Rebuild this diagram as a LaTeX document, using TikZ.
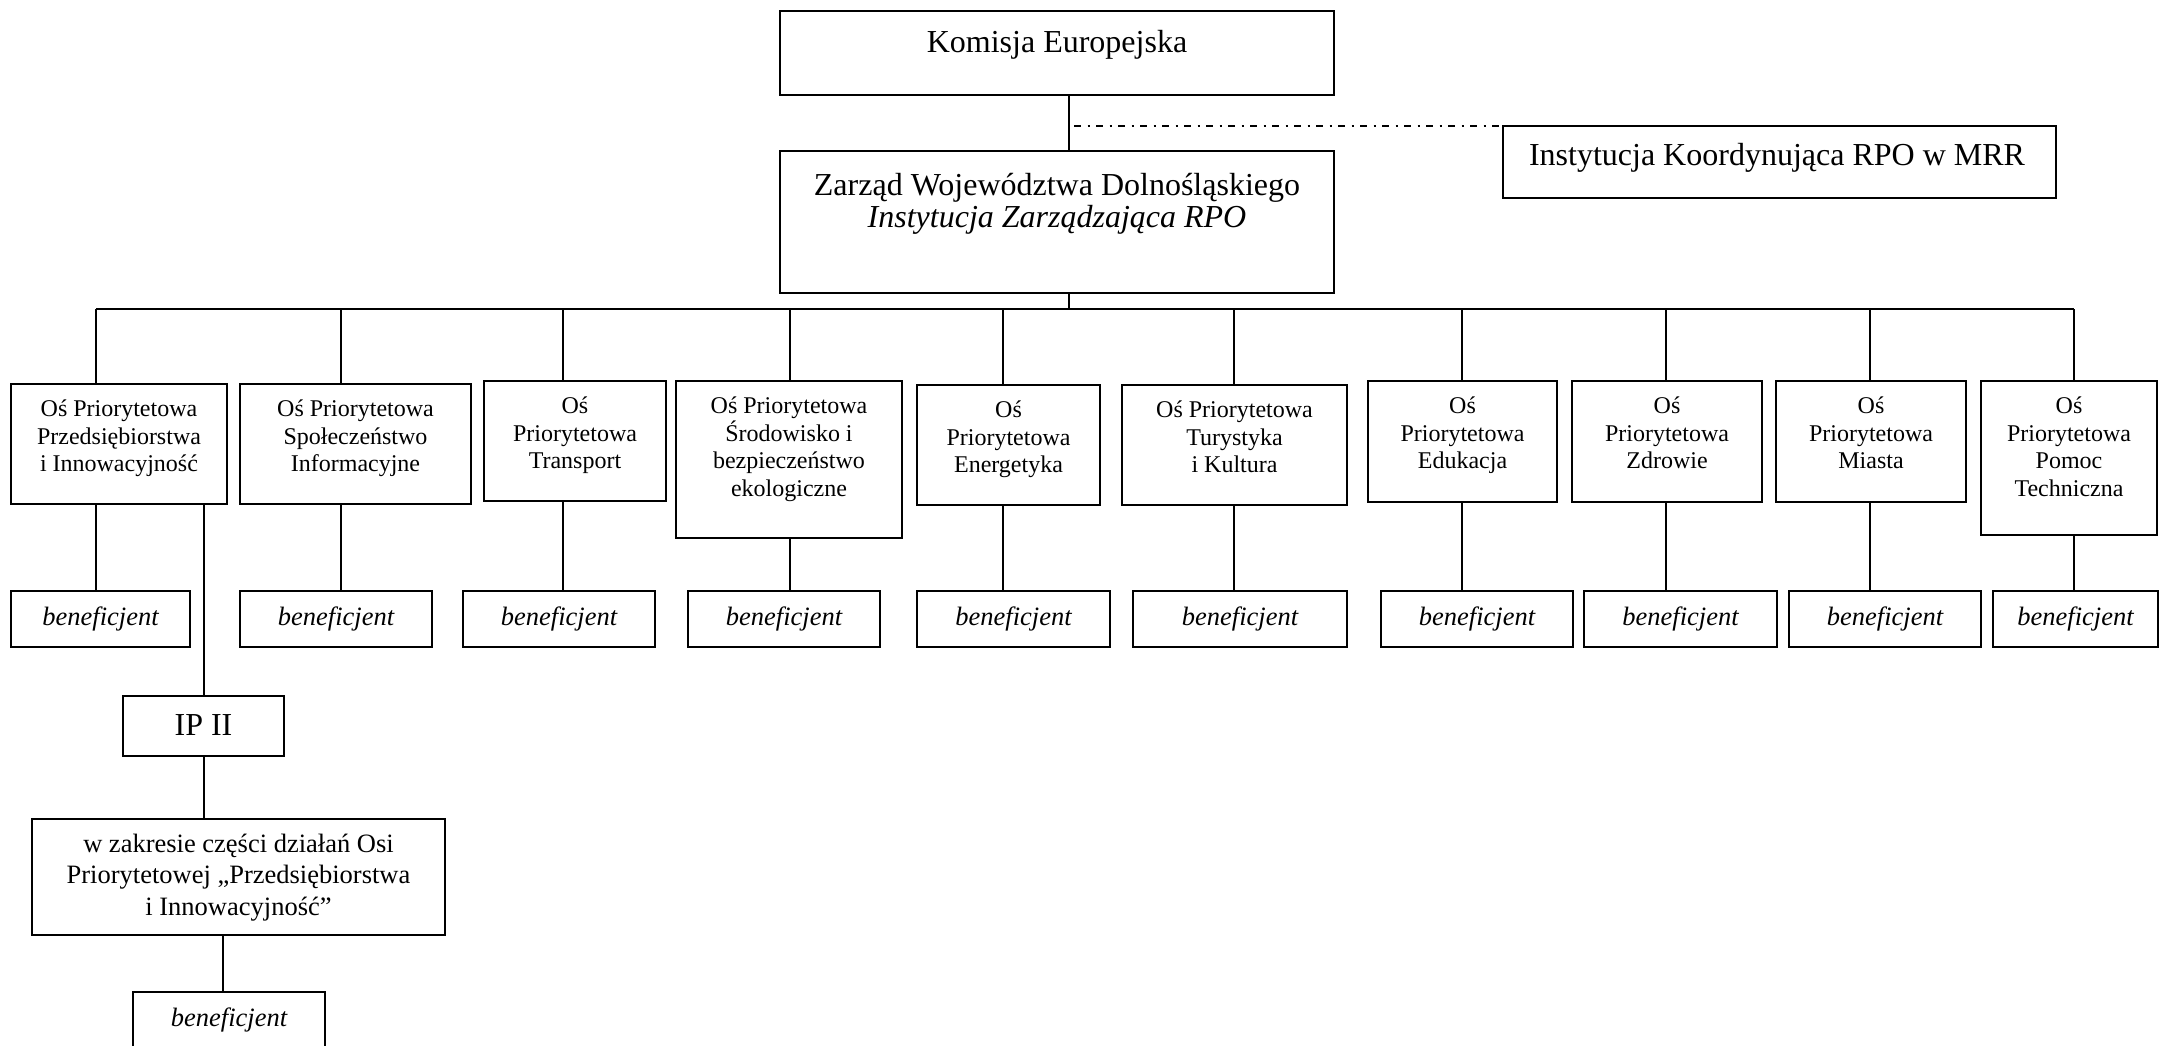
\documentclass[tikz,border=0pt]{standalone}
\usepackage{fontspec}
\setmainfont{Liberation Serif}
\newcommand\bx[5]{\node[box, minimum width={(#4)-(#2)}, minimum height={(#5)-(#3)}] (#1) at ({((#2)+(#4))/2},{((#3)+(#5))/2}) {};}
\newcommand\ben[4]{\bx{#1}{#2}{#4}{#3}{#4+56}\node[bentxt] (#1t) at ({((#2)+(#3))/2},{(#4)+34}) {beneficjent};}
\newcommand\osbox[6]{\bx{#1}{#2}{#3}{#4}{#5}\node[ostxt, anchor=north] (#1t) at ({((#2)+(#4))/2},{(#3)+10.5}) {\rule{0pt}{22pt}#6};}
\begin{document}
\begin{tikzpicture}[x=1pt,y=-1pt,
  box/.style={draw, line width=2pt, inner sep=0pt, outer sep=0pt, rectangle},
  conn/.style={line width=1.4pt},
  dashdot/.style={line width=1.8pt, dash pattern=on 7pt off 6.5pt on 2pt off 6.5pt},
  ostxt/.style={inner sep=0pt, align=center, font=\fontsize{24}{27.5}\selectfont},
  bentxt/.style={inner sep=0pt, anchor=base, font=\fontsize{26.5}{30}\selectfont\itshape},
  bigtxt/.style={inner sep=0pt, align=center, font=\fontsize{32}{32}\selectfont},
  midtxt/.style={inner sep=0pt, align=center, font=\fontsize{26.5}{31.5}\selectfont}
]
\useasboundingbox (0,0) rectangle (2161,1045);
\clip (0,0) rectangle (2161,1045);
\fill[white] (0,0) rectangle (2161,1045);

% top level
\bx{kom}{780}{11}{1334}{95}
\node[bigtxt, anchor=base] (komt) at (1057,52) {Komisja Europejska};
\bx{zar}{780}{151}{1334}{293}
\node[bigtxt, anchor=north] (zart) at (1057,169) {\rule{0pt}{26pt}Zarząd Województwa Dolnośląskiego\\\textit{Instytucja Zarządzająca RPO}};
\bx{ik}{1503}{126}{2056}{198}
\node[bigtxt, anchor=base] (ikt) at (1777,165) {Instytucja Koordynująca RPO w MRR};

\coordinate (trunk) at (1069,309);
\coordinate (dstart) at (1074,309);
\draw[conn] (kom.south -| trunk) -- (zar.north -| trunk);
\draw[conn] (zar.south -| trunk) -- (trunk);
\draw[dashdot] (dstart |- ik.north) -- (ik.north west);

% priority axes
\osbox{o1}{11}{384}{227}{504}{Oś Priorytetowa\\Przedsiębiorstwa\\i Innowacyjność}
\osbox{o2}{240}{384}{471}{504}{Oś Priorytetowa\\Społeczeństwo\\Informacyjne}
\osbox{o3}{484}{381}{666}{501}{Oś\\Priorytetowa\\Transport}
\osbox{o4}{676}{381}{902}{538}{Oś Priorytetowa\\Środowisko i\\bezpieczeństwo\\ekologiczne}
\osbox{o5}{917}{385}{1100}{505}{Oś\\Priorytetowa\\Energetyka}
\osbox{o6}{1122}{385}{1347}{505}{Oś Priorytetowa\\Turystyka\\i Kultura}
\osbox{o7}{1368}{381}{1557}{502}{Oś\\Priorytetowa\\Edukacja}
\osbox{o8}{1572}{381}{1762}{502}{Oś\\Priorytetowa\\Zdrowie}
\osbox{o9}{1776}{381}{1966}{502}{Oś\\Priorytetowa\\Miasta}
\osbox{o10}{1981}{381}{2157}{535}{Oś\\Priorytetowa\\Pomoc\\Techniczna}

% beneficiaries
\ben{b1}{11}{190}{591}
\ben{b2}{240}{432}{591}
\ben{b3}{463}{655}{591}
\ben{b4}{688}{880}{591}
\ben{b5}{917}{1110}{591}
\ben{b6}{1133}{1347}{591}
\ben{b7}{1381}{1573}{591}
\ben{b8}{1584}{1777}{591}
\ben{b9}{1789}{1981}{591}
\ben{b10}{1993}{2158}{591}

\coordinate (c1) at (96,309);
\coordinate (c2) at (341,309);
\coordinate (c3) at (563,309);
\coordinate (c4) at (790,309);
\coordinate (c5) at (1003,309);
\coordinate (c6) at (1234,309);
\coordinate (c7) at (1462,309);
\coordinate (c8) at (1666,309);
\coordinate (c9) at (1870,309);
\coordinate (c10) at (2074,309);
\draw[conn] (c1) -- (c10);
\foreach \i in {1,...,10}{
  \draw[conn] (c\i) -- (o\i.north -| c\i);
  \draw[conn] (o\i.south -| c\i) -- (b\i.north -| c\i);
}

% IP II branch
\bx{ip}{123}{696}{284}{756}
\node[bigtxt, anchor=base] (ipt) at (203.5,735) {IP II};
\bx{wz}{32}{819}{445}{935}
\node[midtxt, anchor=north] (wzt) at (238.5,830) {\rule{0pt}{22pt}w zakresie części działań Osi\\Priorytetowej „Przedsiębiorstwa\\i Innowacyjność”};
\ben{bb}{133}{325}{992}
\coordinate (ipc) at (204,0);
\coordinate (wzc) at (223,0);
\draw[conn] (o1.south -| ipc) -- (ip.north -| ipc);
\draw[conn] (ip.south -| ipc) -- (wz.north -| ipc);
\draw[conn] (wz.south -| wzc) -- (bb.north -| wzc);
\end{tikzpicture}
\end{document}
